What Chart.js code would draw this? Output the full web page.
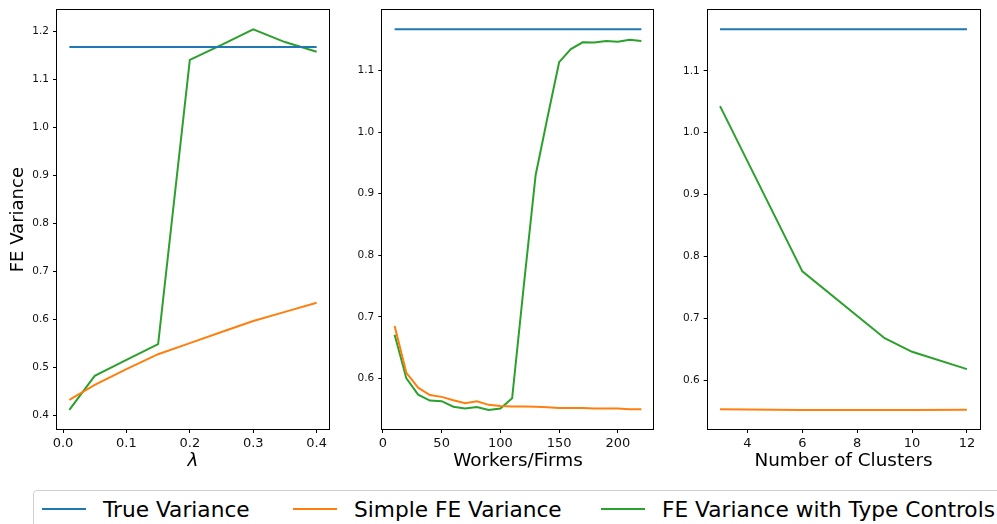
<!DOCTYPE html>
<html>
<head>
<meta charset="utf-8">
<script src="https://cdn.jsdelivr.net/npm/chart.js@4.4.1/dist/chart.umd.min.js"></script>
<style>
body { margin: 0; background: #fff; width: 997px; height: 524px; overflow: hidden; position: relative; font-family: "DejaVu Sans", sans-serif; }
canvas { position: absolute; top: 0; }
#legend { position: absolute; left: 33px; top: 490px; width: 990px; height: 60px; border: 1px solid #d0d0d0; border-radius: 4px; box-sizing: border-box; }
.item { position: absolute; top: 4px; height: 28px; display: flex; align-items: center; font-size: 21.7px; color: #000; white-space: nowrap; }
.item i { display: inline-block; width: 44px; height: 2px; margin-right: 17px; }
</style>
</head>
<body>
<canvas id="c1" width="340" height="480" style="left:0px"></canvas>
<canvas id="c2" width="330" height="480" style="left:340px"></canvas>
<canvas id="c3" width="327" height="480" style="left:670px"></canvas>
<div id="legend"></div>
<script>
const seriesNames = ['True Variance', 'Simple FE Variance', 'FE Variance with Type Controls'];
const seriesColors = ['#1f77b4', '#ff7f0e', '#2ca02c'];

// panel 1: lambda
const lambdaX = [0.01, 0.05, 0.1, 0.15, 0.2, 0.25, 0.3, 0.35, 0.4];
const lambdaTrue = [1.167, 1.167, 1.167, 1.167, 1.167, 1.167, 1.167, 1.167, 1.167];
const lambdaSimple = [0.433, 0.464, 0.497, 0.528, 0.551, 0.574, 0.597, 0.616, 0.635];
const lambdaTyped = [0.412, 0.483, 0.516, 0.549, 1.140, 1.171, 1.2035, 1.177, 1.157];
const lambdaXTicks = [0, 0.1, 0.2, 0.3, 0.4];
const lambdaYTicks = [0.4, 0.5, 0.6, 0.7, 0.8, 0.9, 1.0, 1.1, 1.2];

// panel 2: workers per firm
const workersX = [10, 20, 30, 40, 50, 60, 70, 80, 90, 100, 110, 120, 130, 140, 150, 160, 170, 180, 190, 200, 210, 220];
const workersTrue = [1.167, 1.167, 1.167, 1.167, 1.167, 1.167, 1.167, 1.167, 1.167, 1.167, 1.167, 1.167, 1.167, 1.167, 1.167, 1.167, 1.167, 1.167, 1.167, 1.167, 1.167, 1.167];
const workersSimple = [0.685, 0.609, 0.585, 0.573, 0.570, 0.5645, 0.5595, 0.5627, 0.557, 0.555, 0.5545, 0.5545, 0.554, 0.553, 0.552, 0.552, 0.552, 0.551, 0.551, 0.551, 0.550, 0.550];
const workersTyped = [0.671, 0.600, 0.5735, 0.564, 0.563, 0.554, 0.551, 0.5535, 0.5487, 0.551, 0.5676, 0.752, 0.930, 1.023, 1.1136, 1.135, 1.146, 1.1455, 1.148, 1.147, 1.150, 1.148];
const workersXTicks = [0, 50, 100, 150, 200];
const workersYTicks = [0.6, 0.7, 0.8, 0.9, 1.0, 1.1];

// panel 3: clusters
const clustersX = [3, 6, 9, 10, 12];
const clustersTrue = [1.167, 1.167, 1.167, 1.167, 1.167];
const clustersSimple = [0.553, 0.552, 0.552, 0.552, 0.5525];
const clustersTyped = [1.043, 0.776, 0.668, 0.646, 0.618];
const clustersXTicks = [4, 6, 8, 10, 12];
const clustersYTicks = [0.6, 0.7, 0.8, 0.9, 1.0, 1.1];

// black box around plot area
const frame = {
    id: 'frame',
    afterDraw(chart) {
        const { ctx, chartArea: a } = chart;
        ctx.save();
        ctx.strokeStyle = '#000';
        ctx.lineWidth = 1;
        ctx.strokeRect(Math.round(a.left) - 0.5, Math.round(a.top) - 0.5, Math.round(a.right - a.left) + 1, Math.round(a.bottom - a.top) + 1);
        ctx.restore();
    }
};

function pad(vals) {
    const lo = Math.min(...vals), hi = Math.max(...vals);
    const m = (hi - lo) * 0.05;
    return [lo - m, hi + m];
}

function makeChart(id, xs, ys, cfg) {
    const [xmin, xmax] = pad(xs);
    const [ymin, ymax] = pad([].concat(...ys));
    new Chart(document.getElementById(id), {
        type: 'line',
        data: {
            datasets: ys.map((vals, i) => ({
                label: seriesNames[i],
                data: vals.map((v, j) => ({ x: xs[j], y: v })),
                borderColor: seriesColors[i],
                borderWidth: 2,
                pointRadius: 0,
                tension: 0,
                fill: false
            }))
        },
        options: {
            responsive: false,
            animation: false,
            layout: { padding: { left: 0, top: 10, right: cfg.padRight, bottom: 0 } },
            plugins: { legend: { display: false }, tooltip: { enabled: false } },
            scales: {
                x: {
                    type: 'linear', min: xmin, max: xmax,
                    afterBuildTicks: s => { s.ticks = cfg.xTicks.map(v => ({ value: v })); },
                    afterFit: s => { s.height = 51; },
                    grid: { drawOnChartArea: false, drawTicks: true, tickLength: 4, color: '#000' },
                    border: { display: false },
                    ticks: {
                        maxRotation: 0, padding: 3, color: '#111',
                        font: { family: 'DejaVu Sans', size: 13 },
                        callback: v => v.toFixed(cfg.xDec)
                    },
                    title: {
                        display: true, text: cfg.xTitle, color: '#000',
                        padding: { top: 0, bottom: 8 },
                        font: { family: 'DejaVu Sans', size: 18.4, style: cfg.xItalic ? 'italic' : 'normal' }
                    }
                },
                y: {
                    type: 'linear', min: ymin, max: ymax,
                    afterBuildTicks: s => { s.ticks = cfg.yTicks.map(v => ({ value: v })); },
                    afterFit: s => { s.width = cfg.yWidth; },
                    grid: { drawOnChartArea: false, drawTicks: true, tickLength: 4, color: '#000' },
                    border: { display: false },
                    ticks: {
                        padding: 4, color: '#111',
                        font: { family: 'DejaVu Sans', size: 10.5 },
                        callback: v => v.toFixed(1)
                    },
                    title: {
                        display: !!cfg.yTitle, text: cfg.yTitle || '', color: '#000',
                        padding: { top: 8, bottom: 0 },
                        font: { family: 'DejaVu Sans', size: 18 }
                    }
                }
            }
        },
        plugins: [frame]
    });
}

makeChart('c1', lambdaX, [lambdaTrue, lambdaSimple, lambdaTyped], {
    xTicks: lambdaXTicks, yTicks: lambdaYTicks, xDec: 1, xTitle: 'λ', xItalic: true,
    yTitle: 'FE Variance', yWidth: 57, padRight: 11
});
makeChart('c2', workersX, [workersTrue, workersSimple, workersTyped], {
    xTicks: workersXTicks, yTicks: workersYTicks, xDec: 0, xTitle: 'Workers/Firms',
    yWidth: 42.3, padRight: 16.3
});
makeChart('c3', clustersX, [clustersTrue, clustersSimple, clustersTyped], {
    xTicks: clustersXTicks, yTicks: clustersYTicks, xDec: 0, xTitle: 'Number of Clusters',
    yWidth: 37.7, padRight: 17.7
});

// legend spanning all three panels
const legendLeft = [8, 259, 567];
const legend = document.getElementById('legend');
legend.innerHTML = seriesNames.map((name, i) =>
    `<div class="item" style="left:${legendLeft[i]}px"><i style="background:${seriesColors[i]}"></i>${name}</div>`
).join('');
</script>
</body>
</html>
